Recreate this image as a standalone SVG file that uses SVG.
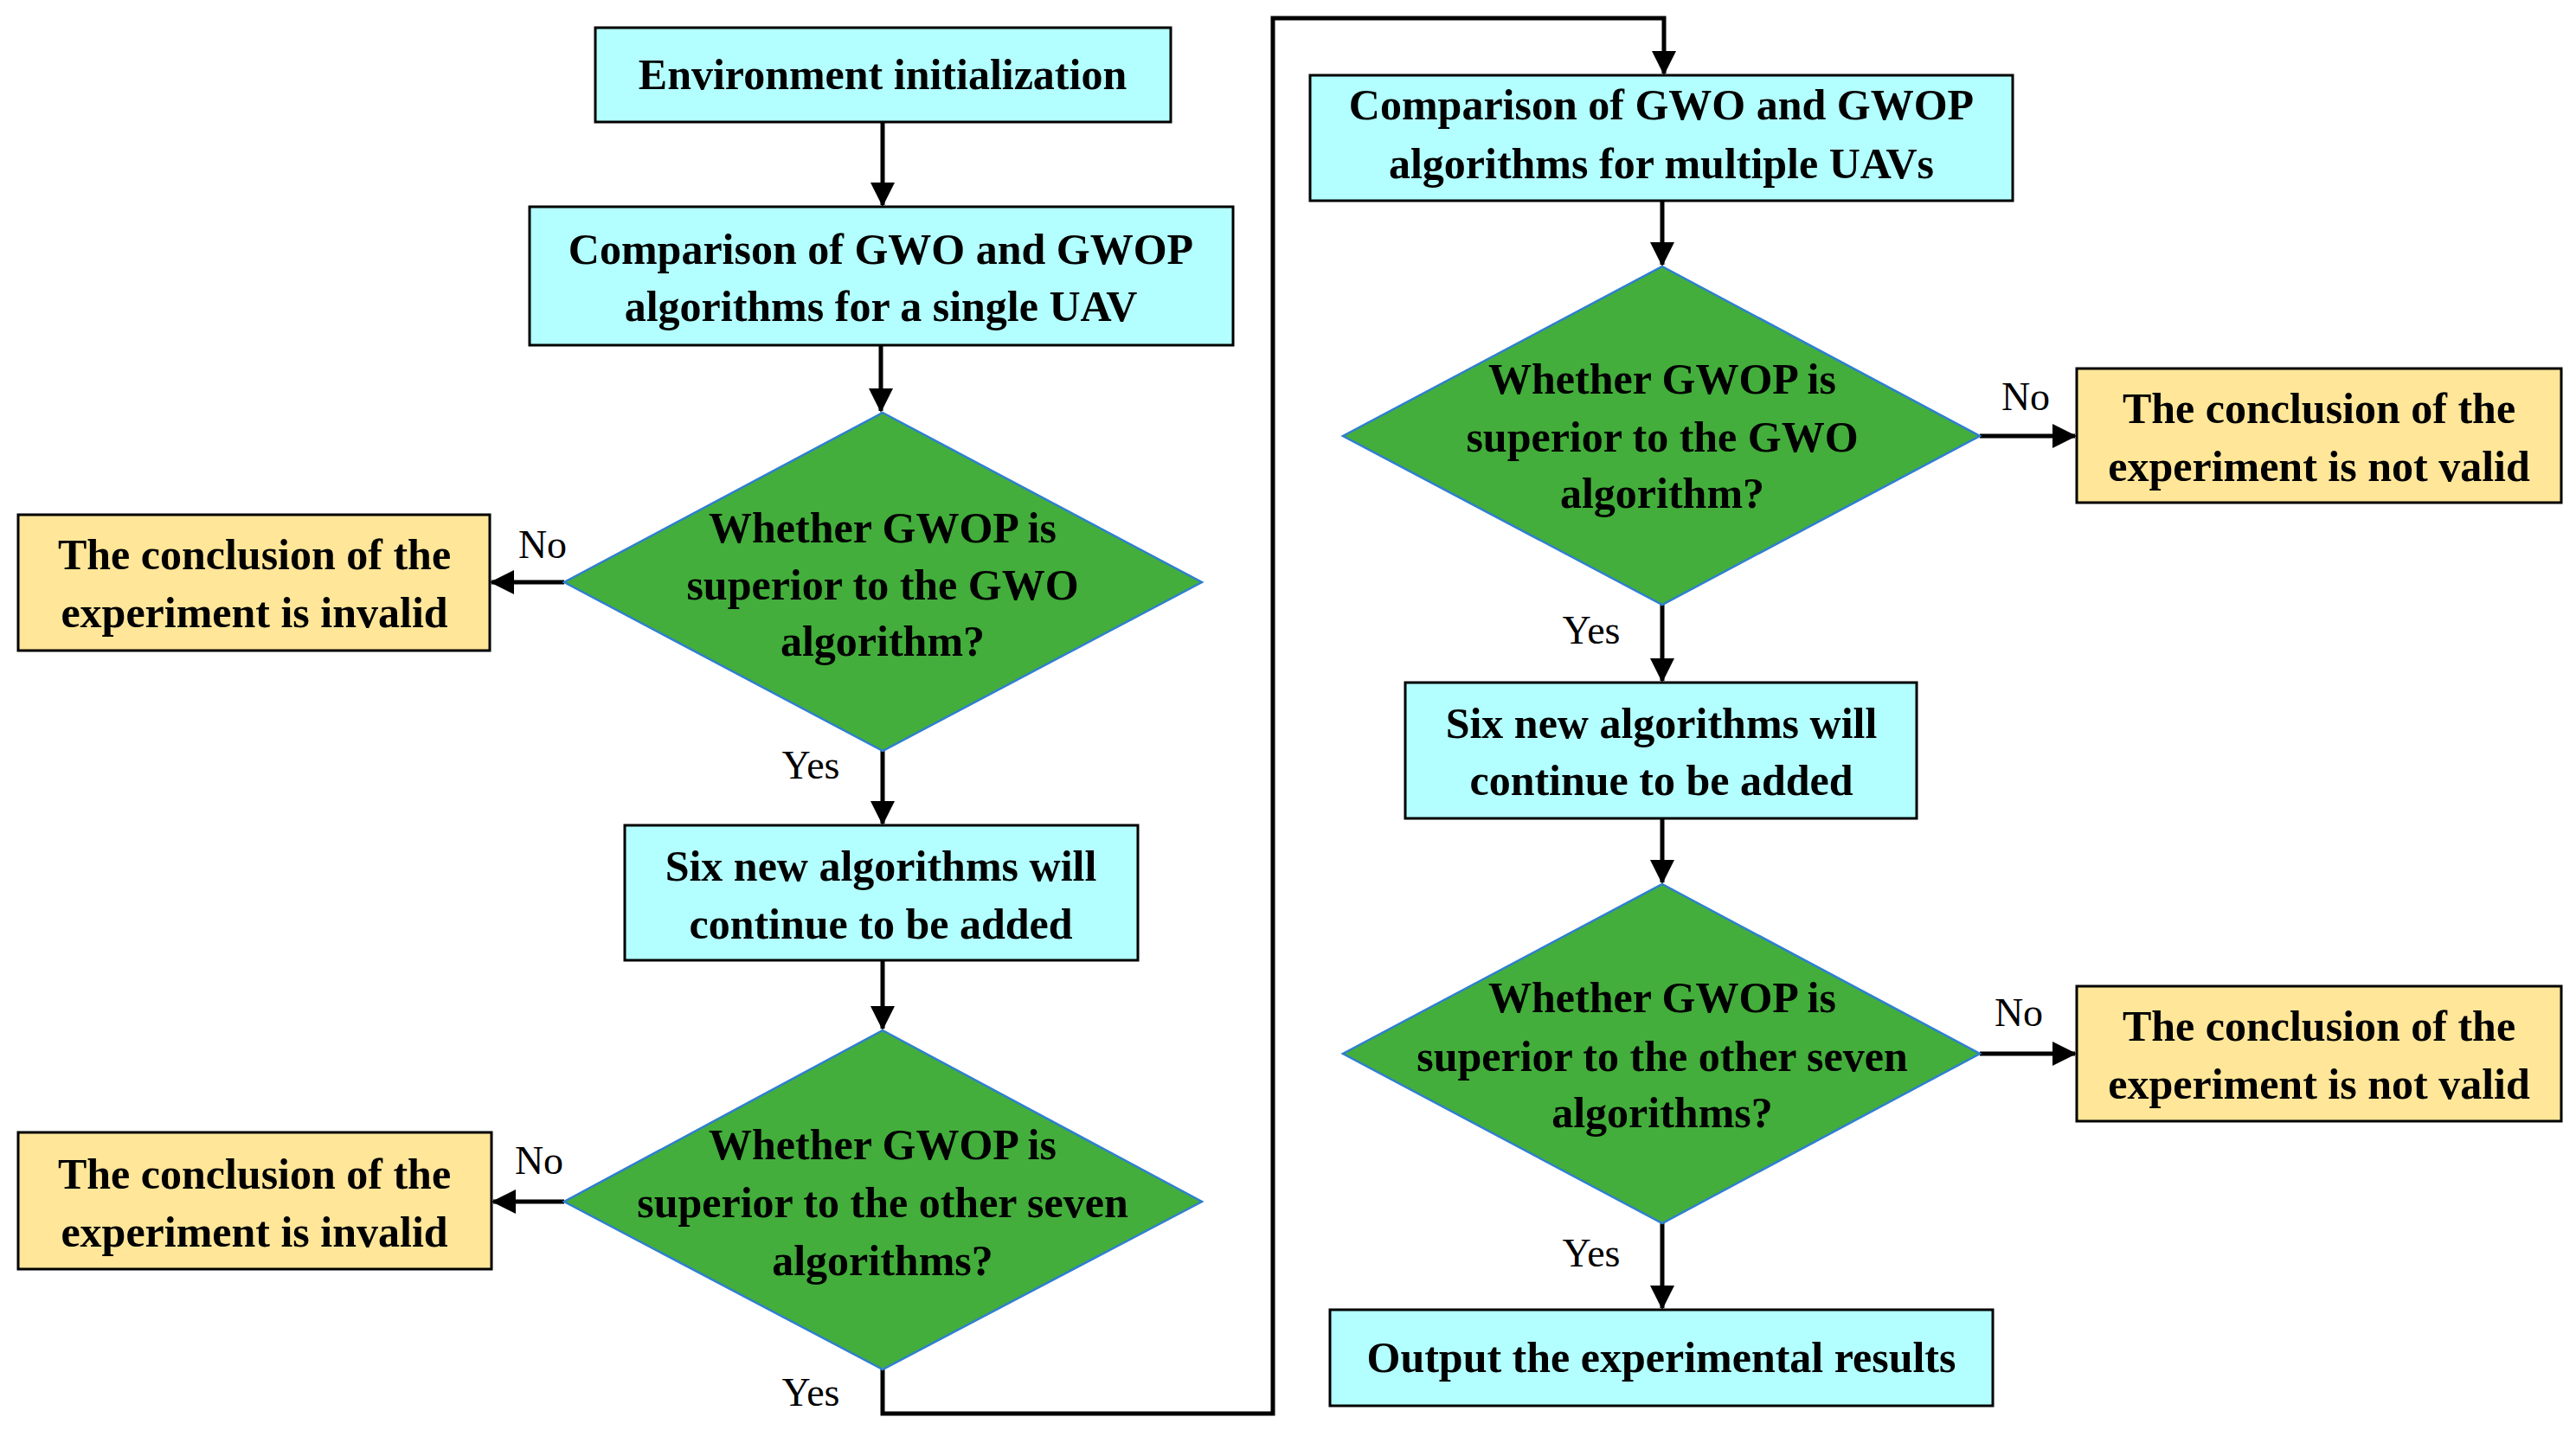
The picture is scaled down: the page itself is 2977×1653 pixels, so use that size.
<svg xmlns="http://www.w3.org/2000/svg" width="2977" height="1653" viewBox="0 0 2977 1653">
<style>
.c{fill:#b3ffff;stroke:#000;stroke-width:3}
.y{fill:#ffe699;stroke:#000;stroke-width:3}
.d{fill:#43ae3b;stroke:#2f7fd0;stroke-width:2.5}
text{font-family:"Liberation Serif",serif;font-size:50px;font-weight:bold;text-anchor:middle;fill:#000}
text.l{font-weight:normal;font-size:46px}
.e{fill:none;stroke:#000;stroke-width:5}
</style>
<defs><marker id="a" markerUnits="userSpaceOnUse" markerWidth="30" markerHeight="30" refX="26" refY="14" orient="auto"><path d="M0,0 L28,14 L0,28 Z" fill="#000"/></marker></defs>
<rect width="2977" height="1653" fill="#fff"/>
<g id="connectors">
<path class="e" d="M1020,141V237" marker-end="url(#a)"/>
<path class="e" d="M1018,399V475" marker-end="url(#a)"/>
<path class="e" d="M1020,868V952" marker-end="url(#a)"/>
<path class="e" d="M1020,1110V1189" marker-end="url(#a)"/>
<path class="e" d="M652,673H568" marker-end="url(#a)"/>
<path class="e" d="M652,1389H570" marker-end="url(#a)"/>
<path class="e" d="M1020,1583V1634H1471V21H1923V85" marker-end="url(#a)"/>
<path class="e" d="M1921,232V306" marker-end="url(#a)"/>
<path class="e" d="M2288,504H2398" marker-end="url(#a)"/>
<path class="e" d="M1921,699V787" marker-end="url(#a)"/>
<path class="e" d="M1921,946V1020" marker-end="url(#a)"/>
<path class="e" d="M2288,1218H2398" marker-end="url(#a)"/>
<path class="e" d="M1921,1414V1512" marker-end="url(#a)"/>
<text class="l" x="627" y="645">No</text>
<text class="l" x="937" y="900">Yes</text>
<text class="l" x="623" y="1357">No</text>
<text class="l" x="937" y="1625">Yes</text>
<text class="l" x="2341" y="474">No</text>
<text class="l" x="1839" y="744">Yes</text>
<text class="l" x="2333" y="1186">No</text>
<text class="l" x="1839" y="1464">Yes</text>
</g>
<g id="env"><rect class="c" x="688" y="32" width="665" height="109"/><text x="1020" y="103">Environment initialization</text></g>
<g id="comp1"><rect class="c" x="612" y="239" width="813" height="160"/><text x="1018" y="305">Comparison of GWO and GWOP</text><text x="1018" y="371">algorithms for a single UAV</text></g>
<g id="d1"><polygon class="d" points="1020,477 1389,673 1020,868 652,673"/><text x="1020" y="627">Whether GWOP is</text><text x="1020" y="693">superior to the GWO</text><text x="1020" y="758">algorithm?</text></g>
<g id="inv1"><rect class="y" x="21" y="595" width="545" height="157"/><text x="294" y="658">The conclusion of the</text><text x="294" y="725">experiment is invalid</text></g>
<g id="six1"><rect class="c" x="722" y="954" width="593" height="156"/><text x="1018" y="1018">Six new algorithms will</text><text x="1018" y="1085">continue to be added</text></g>
<g id="d2"><polygon class="d" points="1020,1191 1389,1389 1020,1583 652,1389"/><text x="1020" y="1340">Whether GWOP is</text><text x="1020" y="1407">superior to the other seven</text><text x="1020" y="1474">algorithms?</text></g>
<g id="inv2"><rect class="y" x="21" y="1309" width="547" height="158"/><text x="294" y="1374">The conclusion of the</text><text x="294" y="1441">experiment is invalid</text></g>
<g id="comp2"><rect class="c" x="1514" y="87" width="812" height="145"/><text x="1920" y="138">Comparison of GWO and GWOP</text><text x="1920" y="206">algorithms for multiple UAVs</text></g>
<g id="d3"><polygon class="d" points="1921,308 2288,504 1921,699 1552,504"/><text x="1921" y="455">Whether GWOP is</text><text x="1921" y="522">superior to the GWO</text><text x="1921" y="587">algorithm?</text></g>
<g id="nv1"><rect class="y" x="2400" y="426" width="560" height="155"/><text x="2680" y="489">The conclusion of the</text><text x="2680" y="556">experiment is not valid</text></g>
<g id="six2"><rect class="c" x="1624" y="789" width="591" height="157"/><text x="1920" y="853">Six new algorithms will</text><text x="1920" y="919">continue to be added</text></g>
<g id="d4"><polygon class="d" points="1921,1022 2288,1218 1921,1414 1552,1218"/><text x="1921" y="1170">Whether GWOP is</text><text x="1921" y="1238">superior to the other seven</text><text x="1921" y="1303">algorithms?</text></g>
<g id="nv2"><rect class="y" x="2400" y="1140" width="560" height="156"/><text x="2680" y="1203">The conclusion of the</text><text x="2680" y="1270">experiment is not valid</text></g>
<g id="out"><rect class="c" x="1537" y="1514" width="766" height="111"/><text x="1920" y="1586">Output the experimental results</text></g>
</svg>
